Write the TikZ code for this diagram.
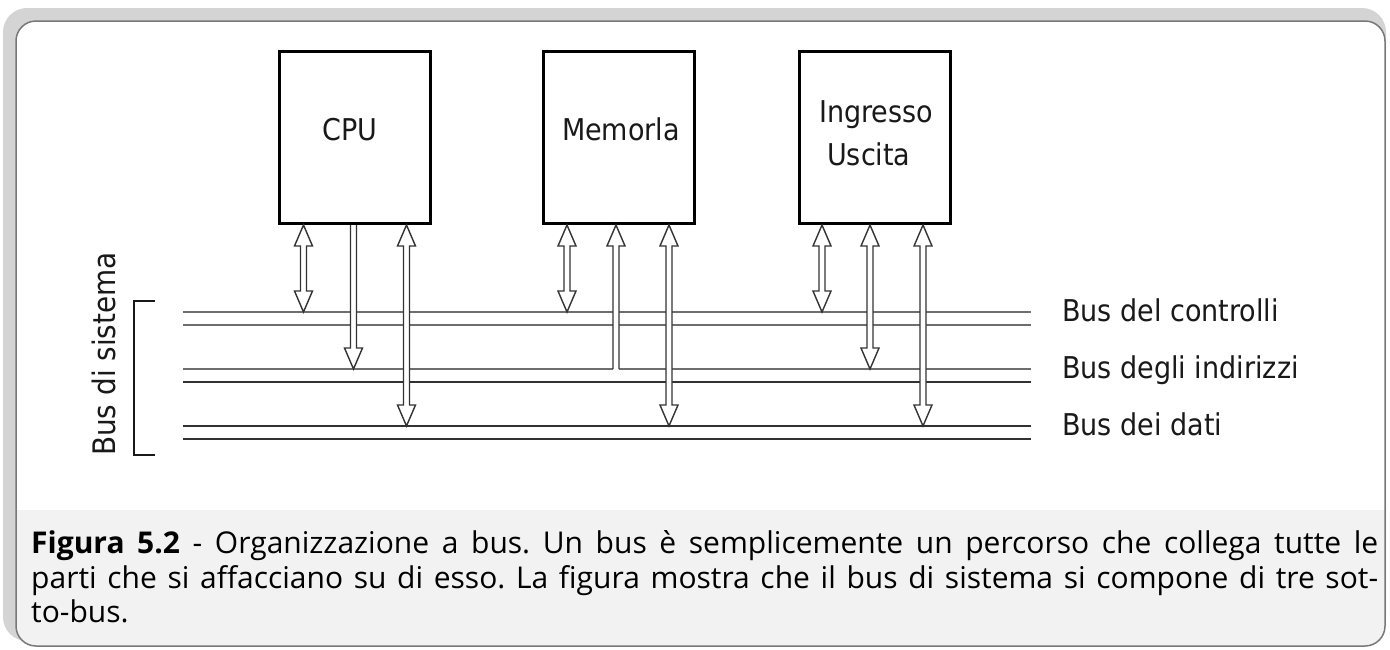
\documentclass[tikz,border=0pt]{standalone}
\usepackage{fontspec}
\newfontfamily\labfont[FakeStretch=0.9]{DejaVu Sans}
\newfontfamily\capfont{Open Sans}
\usetikzlibrary{calc}
\definecolor{framegray}{RGB}{212,212,212}
\definecolor{framedark}{RGB}{120,120,120}
\definecolor{capbg}{RGB}{242,242,242}
\definecolor{busgray}{RGB}{110,110,110}
\definecolor{busdark}{RGB}{50,50,50}
\frenchspacing

\newcommand{\twohead}[2]{%
  \draw[harrow] let \p1=(#1), \p2=(#2) in
    (\x1,\y1) -- (\x1+9pt,\y1-21pt) -- (\x1+3pt,\y1-21pt) -- (\x1+3pt,\y2+21pt)
    -- (\x1+9pt,\y2+21pt) -- (\x1,\y2) -- (\x1-9pt,\y2+21pt) -- (\x1-3pt,\y2+21pt)
    -- (\x1-3pt,\y1-21pt) -- (\x1-9pt,\y1-21pt) -- cycle;}
\newcommand{\downhead}[2]{%
  \draw[harrow] let \p1=(#1), \p2=(#2) in
    (\x1-3pt,\y1) -- (\x1-3pt,\y2+21pt) -- (\x1-9pt,\y2+21pt) -- (\x1,\y2)
    -- (\x1+9pt,\y2+21pt) -- (\x1+3pt,\y2+21pt) -- (\x1+3pt,\y1);}
\newcommand{\uphead}[2]{%
  \draw[harrow] let \p1=(#1), \p2=(#2) in
    (\x1-3pt,\y2) -- (\x1-3pt,\y1-21pt) -- (\x1-9pt,\y1-21pt) -- (\x1,\y1)
    -- (\x1+9pt,\y1-21pt) -- (\x1+3pt,\y1-21pt) -- (\x1+3pt,\y2);}

\begin{document}
\begin{tikzpicture}[x=1pt,y=-1pt,
  box/.style={draw=black, line width=3pt, fill=white, minimum width=151pt, minimum height=172pt, inner sep=0pt},
  lab/.style={font=\labfont\fontsize{30}{43}\selectfont, text=black!90, inner sep=0pt},
  capline/.style={font=\capfont\fontsize{30}{34}\selectfont, inner sep=0pt, anchor=base west},
  busline/.style={draw=busgray, line width=2pt},
  busline2/.style={draw=busdark, line width=2pt},
  harrow/.style={draw=black!80, line width=1.4pt, fill=white, line join=miter}]
\useasboundingbox (0,0) rectangle (1390,649);

% frame
\fill[framegray, rounded corners=24pt] (3,8) rectangle (1386,641);
\begin{scope}
  \clip[rounded corners=20pt] (16,21) rectangle (1385,646);
  \fill[white] (16,21) rectangle (1385,646);
  \fill[capbg] (16,510) rectangle (1385,646);
\end{scope}
\draw[framedark, line width=1.5pt, rounded corners=20pt] (16,21) rectangle (1385,646);

% bus coordinates
\coordinate (c1L) at (183,312);  \coordinate (c1R) at (1031,312);
\coordinate (c2L) at (183,325);  \coordinate (c2R) at (1031,325);
\coordinate (a1L) at (183,369);  \coordinate (a1R) at (1031,369);
\coordinate (a2L) at (183,382);  \coordinate (a2R) at (1031,382);
\coordinate (d1L) at (183,426);  \coordinate (d1R) at (1031,426);
\coordinate (d2L) at (183,439);  \coordinate (d2R) at (1031,439);
\coordinate (memAl) at (613,369); \coordinate (memAr) at (619,369);

\draw[busline] (c1L) -- (c1R);
\draw[busline] (c2L) -- (c2R);
\draw[busline] (a1L) -- (memAl);
\draw[busline] (memAr) -- (a1R);
\draw[busline2] (a2L) -- (a2R);
\draw[busline2] (d1L) -- (d1R);
\draw[busline2] (d2L) -- (d2R);

% boxes
\node[box] (cpu) at (355,137.5) {};
\node[box] (mem) at (619,137.5) {};
\node[box] (io)  at (875,137.5) {};

\node[lab, anchor=base] (cpulab) at (350,140) {CPU};
\node[lab, anchor=base] (memlab) at (621,140) {Memorla};
\node[lab, anchor=base west] (iolab1) at (819,122) {Ingresso};
\node[lab, anchor=base west] (iolab2) at (827,165) {Uscita};

% arrow end points on the buses
\coordinate (cpuC) at (303.5,312);
\coordinate (cpuA) at (353.5,369);
\coordinate (cpuD) at (406.5,426);
\coordinate (memC) at (567,312);
\coordinate (memA) at (616,369);
\coordinate (memD) at (669,426);
\coordinate (ioC)  at (822,312);
\coordinate (ioA)  at (870,369);
\coordinate (ioD)  at (923,426);

\twohead{cpuC |- cpu.south}{cpuC}
\downhead{cpuA |- cpu.south}{cpuA}
\twohead{cpuD |- cpu.south}{cpuD}
\twohead{memC |- mem.south}{memC}
\uphead{memA |- mem.south}{memA}
\twohead{memD |- mem.south}{memD}
\twohead{ioC |- io.south}{ioC}
\twohead{ioA |- io.south}{ioA}
\twohead{ioD |- io.south}{ioD}

% bus labels
\node[lab, anchor=base west] (lc) at (1062,321) {Bus del controlli};
\node[lab, anchor=base west] (la) at (1062,378) {Bus degli indirizzi};
\node[lab, anchor=base west] (ld) at (1062,435) {Bus dei dati};

% bracket and system bus label
\coordinate (brT) at (155,301); \coordinate (brB) at (155,455);
\draw[line width=2.5pt, black!90] (brT) -- (134,301) -- (134,455) -- (brB);
\node[lab, rotate=90, anchor=base, font=\labfont\fontsize{31}{43}\selectfont] (sys) at (115,354) {Bus di sistema};

% caption
\node[capline] (cap1) at (31,553) {\makebox[1347pt][s]{\textbf{Figura 5.2} - Organizzazione a bus. Un bus è semplicemente un percorso che collega tutte le}};
\node[capline] (cap2) at (31,588) {\makebox[1347pt][s]{parti che si affacciano su di esso. La figura mostra che il bus di sistema si compone di tre sot-}};
\node[capline] (cap3) at (31,622) {to-bus.};
\end{tikzpicture}
\end{document}
